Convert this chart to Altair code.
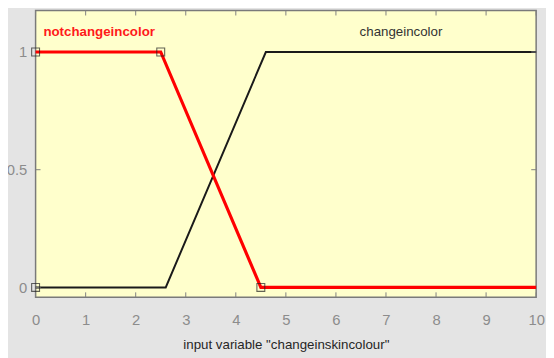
import altair as alt
import pandas as pd

# membership function vertices
not_x = [0, 2.5, 4.5, 10]
not_y = [1, 1, 0, 0]
chg_x = [0, 2.6, 4.6, 10]
chg_y = [0, 0, 1, 1]
# square markers on selected MF
mk_x = [0, 0, 2.5, 4.5]
mk_y = [0, 1, 1, 0]
# MF labels
not_label = ["notchangeincolor"]
not_lab_x = [1.27]
chg_label = ["changeincolor"]
chg_lab_x = [7.3]
lab_y = [1.085]
# ticks
x_ticks = [0, 1, 2, 3, 4, 5, 6, 7, 8, 9, 10]
y_ticks = [0, 0.5, 1]

W, H = 508, 291
FONT = "Liberation Sans Narrow, Liberation Sans, sans-serif"

xs = alt.Scale(domain=[0, 10], nice=False)
ys = alt.Scale(domain=[-0.042, 1.176], nice=False)

df_not = pd.DataFrame({"x": not_x, "y": not_y})
df_chg = pd.DataFrame({"x": chg_x, "y": chg_y})
df_mk = pd.DataFrame({"x": mk_x, "y": mk_y})
df_lab_not = pd.DataFrame({"x": not_lab_x, "y": lab_y, "t": not_label})
df_lab_chg = pd.DataFrame({"x": chg_lab_x, "y": lab_y, "t": chg_label})
df_xt = pd.DataFrame({"x": x_ticks})
df_yt = pd.DataFrame({"y": y_ticks})

base_x = alt.X("x:Q", scale=xs, title='input variable "changeinskincolour"',
               axis=alt.Axis(values=x_ticks, tickSize=0, labelPadding=16, grid=False,
                             domain=False, labelFontSize=15, labelColor="#8c8c8c",
                             labelFlush=False, labelOverlap=False,
                             labelFont=FONT, titleFont=FONT, titleFontSize=13.5,
                             titleFontWeight="normal", titleColor="#262626", titlePadding=10))
base_y = alt.Y("y:Q", scale=ys, title=None,
               axis=alt.Axis(values=y_ticks, tickSize=0, labelPadding=9, grid=False,
                             domain=False, labelFontSize=15, labelColor="#8c8c8c",
                             labelFlush=False, labelFont=FONT, format="~g"))

chg_line = alt.Chart(df_chg).mark_line(color="#1a1a1a", strokeWidth=2).encode(x=base_x, y=base_y)
not_line = alt.Chart(df_not).mark_line(color="#ff0000", strokeWidth=3.2).encode(x="x:Q", y="y:Q")
marks = alt.Chart(df_mk).mark_point(shape="square", size=64, filled=False, color="#222222",
                                    strokeWidth=1.1).encode(x="x:Q", y="y:Q")
lab_not = alt.Chart(df_lab_not).mark_text(font=FONT, fontSize=13.5, fontWeight="bold",
                                          color="#ff1a1a").encode(x="x:Q", y="y:Q", text="t:N")
lab_chg = alt.Chart(df_lab_chg).mark_text(font=FONT, fontSize=13.5,
                                          color="#333333").encode(x="x:Q", y="y:Q", text="t:N")
xt_bot = alt.Chart(df_xt).mark_rule(color="#808080", strokeWidth=1).encode(
    x="x:Q", y=alt.value(H - 5), y2=alt.value(H))
xt_top = alt.Chart(df_xt).mark_rule(color="#808080", strokeWidth=1).encode(
    x="x:Q", y=alt.value(0), y2=alt.value(5))
yt_left = alt.Chart(df_yt).mark_rule(color="#808080", strokeWidth=1).encode(
    y="y:Q", x=alt.value(0), x2=alt.value(5))
yt_right = alt.Chart(df_yt).mark_rule(color="#808080", strokeWidth=1).encode(
    y="y:Q", x=alt.value(W - 5), x2=alt.value(W))

chart = alt.layer(chg_line, xt_bot, xt_top, yt_left, yt_right, not_line, marks, lab_not, lab_chg).properties(
    width=W, height=H,
    autosize=alt.AutoSizeParams(type="none"),
    padding={"left": 28, "top": 0, "right": 10, "bottom": 59},
    background="#e4e4e4",
).configure_view(fill="#ffffcc", stroke="#7a7a7a", strokeWidth=1.5)

chart.save("out.html", embed_options={"renderer": "svg", "actions": False})
